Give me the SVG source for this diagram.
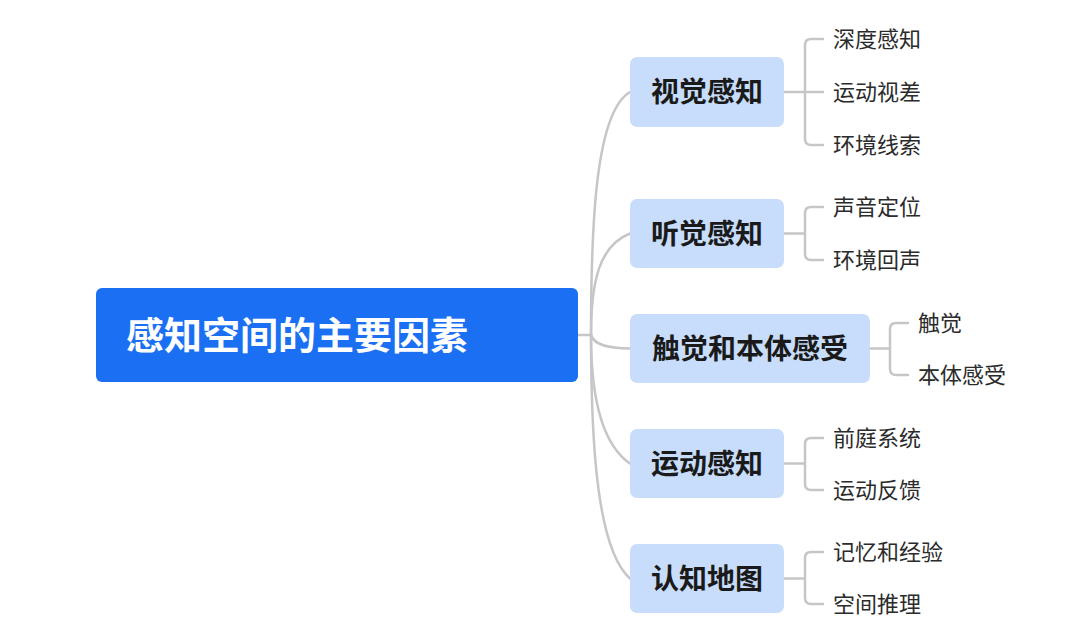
<svg xmlns="http://www.w3.org/2000/svg" width="1080" height="639" viewBox="0 0 1080 639">
<style>
.bg{fill:#ffffff}
.root{fill:#1a6ff2}
.node{fill:#c8ddfb}
.rt{font-family:"Noto Sans CJK SC","Noto Sans",sans-serif;font-size:38px;font-weight:700;fill:#ffffff}
.nt{font-family:"Noto Sans CJK SC","Noto Sans",sans-serif;font-size:28px;font-weight:700;fill:#1a1a1a;text-anchor:middle}
.ct{font-family:"Noto Sans CJK SC","Noto Sans",sans-serif;font-size:22px;font-weight:400;fill:#2b2b2b}
.conn{fill:none;stroke:#c6c6c6;stroke-width:2.5;stroke-linecap:round}
</style>
<rect class="bg" x="0" y="0" width="1080" height="639"/>
<g id="connectors">
<path class="conn" d="M578,335 H591"/>
<path class="conn" d="M591,335 C591,220 596,112 630,92"/>
<path class="conn" d="M591,335 C591,280 600,245 630,233.5"/>
<path class="conn" d="M591,335 C594,344 605,348.5 630,348.5"/>
<path class="conn" d="M591,335 C591,400 603,445 630,463.5"/>
<path class="conn" d="M591,335 C591,450 598,550 630,578.5"/>
<path class="conn" d="M784,92 H823 M823,39 H811 Q805,39 805,45 V139 Q805,145 811,145 H823"/>
<path class="conn" d="M784,233.5 H805 M823,207 H811 Q805,207 805,213 V254 Q805,260 811,260 H823"/>
<path class="conn" d="M870,348.5 H890 M908,323 H896 Q890,323 890,329 V369 Q890,375 896,375 H908"/>
<path class="conn" d="M784,463.5 H805 M823,438 H811 Q805,438 805,444 V484 Q805,490 811,490 H823"/>
<path class="conn" d="M784,578.5 H805 M823,552 H811 Q805,552 805,558 V598 Q805,604 811,604 H823"/>
</g>
<g id="root">
<rect class="root" x="96" y="288" width="482" height="94" rx="6"/>
<text class="rt" x="126" y="348.5">感知空间的主要因素</text>
</g>
<g id="n1">
<rect class="node" x="630" y="57" width="154" height="70" rx="7"/>
<text class="nt" x="707" y="102">视觉感知</text>
</g>
<g id="n2">
<rect class="node" x="630" y="199" width="154" height="69" rx="7"/>
<text class="nt" x="707" y="243.5">听觉感知</text>
</g>
<g id="n3">
<rect class="node" x="630" y="314" width="240" height="69" rx="7"/>
<text class="nt" x="750" y="358.5">触觉和本体感受</text>
</g>
<g id="n4">
<rect class="node" x="630" y="429" width="154" height="69" rx="7"/>
<text class="nt" x="707" y="473.5">运动感知</text>
</g>
<g id="n5">
<rect class="node" x="630" y="544" width="154" height="69" rx="7"/>
<text class="nt" x="707" y="588.5">认知地图</text>
</g>
<g id="c1"><text class="ct" x="833" y="47">深度感知</text></g>
<g id="c2"><text class="ct" x="833" y="100">运动视差</text></g>
<g id="c3"><text class="ct" x="833" y="153">环境线索</text></g>
<g id="c4"><text class="ct" x="833" y="215">声音定位</text></g>
<g id="c5"><text class="ct" x="833" y="268">环境回声</text></g>
<g id="c6"><text class="ct" x="918" y="331">触觉</text></g>
<g id="c7"><text class="ct" x="918" y="383">本体感受</text></g>
<g id="c8"><text class="ct" x="833" y="446">前庭系统</text></g>
<g id="c9"><text class="ct" x="833" y="498">运动反馈</text></g>
<g id="c10"><text class="ct" x="833" y="560">记忆和经验</text></g>
<g id="c11"><text class="ct" x="833" y="612">空间推理</text></g>
</svg>
